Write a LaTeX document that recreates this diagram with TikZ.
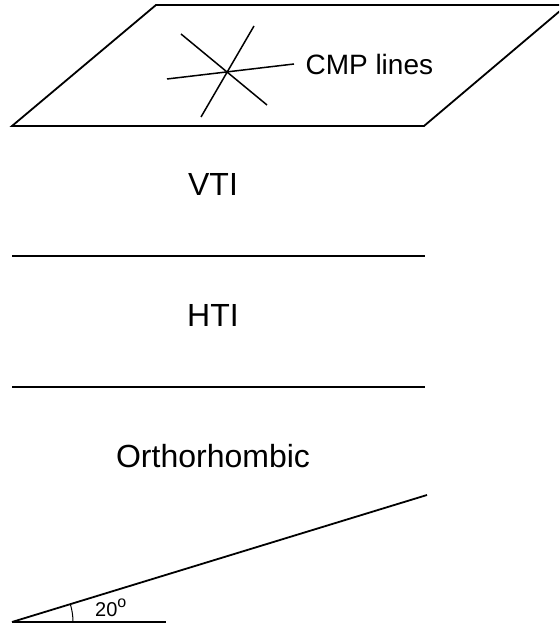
\documentclass[tikz,border=0pt]{standalone}
\usepackage{fontspec}
\setmainfont{Liberation Sans}
\tikzset{layer/.style={font=\fontsize{32}{38}\selectfont, anchor=base},
  edge/.style={line width=1.8pt},
  cmp/.style={line width=1.5pt}}
\begin{document}
\begin{tikzpicture}[x=1pt,y=1pt]
    \clip (0,0) rectangle (559,623);
    % top plane
    \coordinate (p1) at (12,497);
    \coordinate (p2) at (424,497);
    \coordinate (p3) at (567,618);
    \coordinate (p4) at (156,618);
    \draw[edge, line join=miter] (p1)--(p2)--(p3)--(p4)--cycle;
    % CMP lines
    \coordinate (a1) at (181,589);
    \coordinate (a2) at (267,518);
    \coordinate (b1) at (254,597);
    \coordinate (b2) at (201,506);
    \coordinate (c1) at (167,544);
    \coordinate (c2) at (294,559);
    \draw[cmp] (a1)--(a2);
    \draw[cmp] (b1)--(b2);
    \draw[cmp] (c1)--(c2);
    \draw (302,548) node[anchor=base west, font=\fontsize{28}{34}\selectfont] (cmplabel) {CMP lines};
    % layers
    \draw (213,427) node[layer] (vti) {VTI};
    \coordinate (l1) at (12,367);
    \coordinate (r1) at (425,367);
    \draw[edge] (l1)--(r1);
    \draw (213,296) node[layer] (hti) {HTI};
    \coordinate (l2) at (12,236);
    \coordinate (r2) at (425,236);
    \draw[edge] (l2)--(r2);
    \draw (213,155) node[layer] (ortho) {Orthorhombic};
    % dipping layer
    \coordinate (o) at (12,1);
    \coordinate (h) at (166,1);
    \coordinate (d) at (427,128);
    \draw[edge] (o)--(h);
    \draw[edge] (o)--(d);
    \draw[line width=1pt] (73,1) arc (0:17:61);
    \draw (95,6) node[anchor=base west, inner sep=0pt, font=\fontsize{20}{24}\selectfont] (angle) {20\raisebox{10pt}{\fontsize{16}{16}\selectfont o}};
\end{tikzpicture}
\end{document}
